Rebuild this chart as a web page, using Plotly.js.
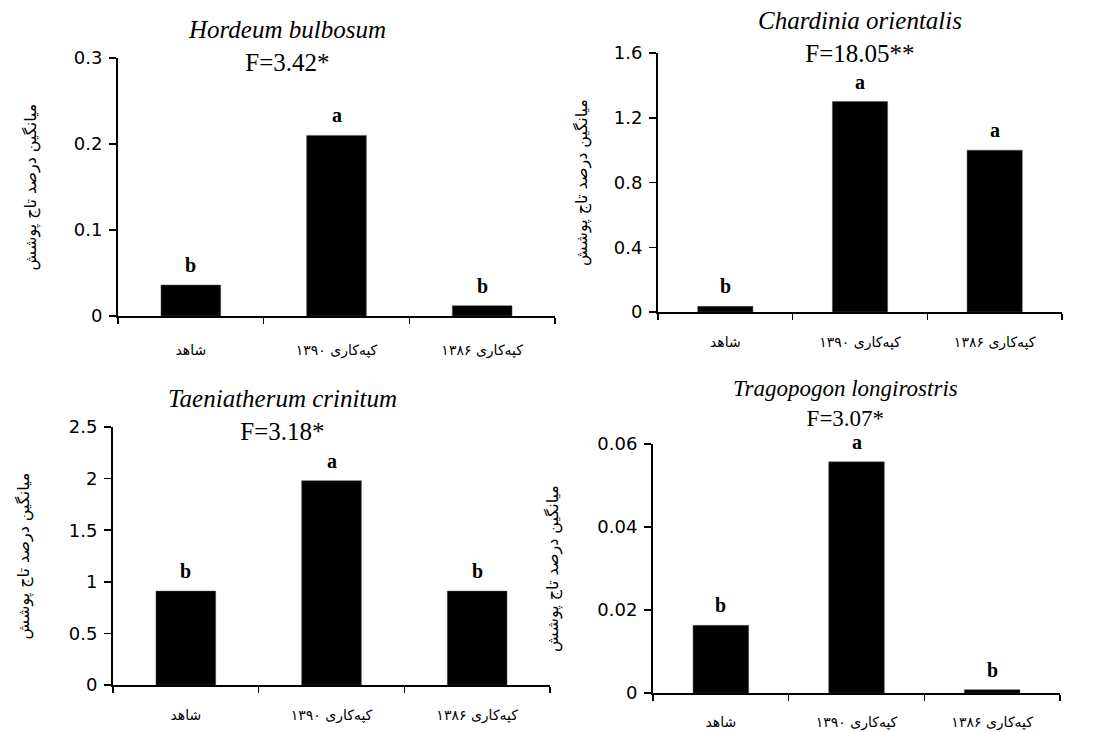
<!DOCTYPE html>
<html>
<head>
<meta charset="utf-8">
<script src="https://cdn.plot.ly/plotly-3.0.1.min.js"></script>
<style>html,body{margin:0;padding:0;background:#fff;}#chart{width:1097px;height:732px;}</style>
</head>
<body>
<div id="chart"></div>
<script>
// ---- data ----
const categories = ["شاهد", "کپه‌کاری ۱۳۹۰", "کپه‌کاری ۱۳۸۶"];
const species = ["Hordeum bulbosum", "Chardinia orientalis", "Taeniatherum crinitum", "Tragopogon longirostris"];
const fValues = ["F=3.42*", "F=18.05**", "F=3.18*", "F=3.07*"];
const hordeumValues = [0.036, 0.21, 0.012];
const chardiniaValues = [0.035, 1.3, 1.0];
const taeniatherumValues = [0.91, 1.98, 0.91];
const tragopogonValues = [0.0163, 0.0557, 0.0008];
const hordeumLetters = ["b", "a", "b"];
const chardiniaLetters = ["b", "a", "a"];
const taeniatherumLetters = ["b", "a", "b"];
const tragopogonLetters = ["b", "a", "b"];
const yMax = [0.3, 1.6, 2.5, 0.06];
const yStep = [0.1, 0.4, 0.5, 0.02];
const yTitle = "میانگین درصد تاج پوشش";

// ---- layout helpers ----
const W = 1097, H = 732;
const seriesValues = [hordeumValues, chardiniaValues, taeniatherumValues, tragopogonValues];
const seriesLetters = [hordeumLetters, chardiniaLetters, taeniatherumLetters, tragopogonLetters];
// pixel boxes: [left, right, top, bottom]
const boxes = [[118, 555, 58, 316], [658, 1062, 53, 312], [113, 550, 427, 685], [653, 1060, 444, 693]];
const titlePos = [[287, 46, 25], [860, 37, 25], [282, 415, 25], [845, 404, 23]];
const titleStandoff = [33, 22, 35, 35];
const xLabelStandoff = [20, 16, 16, 15];

const data = [];
const layout = {
  width: W, height: H,
  margin: {l: 0, r: 0, t: 0, b: 0},
  paper_bgcolor: "#fff", plot_bgcolor: "#fff",
  showlegend: false,
  annotations: []
};

for (let i = 0; i < 4; i++) {
  const n = i === 0 ? "" : String(i + 1);
  const b = boxes[i];
  data.push({
    type: "bar",
    x: categories,
    y: seriesValues[i],
    xaxis: "x" + n, yaxis: "y" + n,
    width: 0.41,
    marker: {color: "#000", line: {color: "#555", width: 0.5}},
    hoverinfo: "x+y"
  });
  layout["xaxis" + n] = {
    domain: [b[0] / W, b[1] / W],
    anchor: "y" + n,
    type: "category",
    range: [-0.5, 2.5],
    showline: true, linecolor: "#000", linewidth: 2,
    ticks: "outside", tickson: "boundaries", ticklen: 6, tickwidth: 1.5, tickcolor: "#000",
    ticklabelstandoff: xLabelStandoff[i],
    tickfont: {family: "DejaVu Sans", size: 14, color: "#000"},
    showgrid: false, zeroline: false, fixedrange: true
  };
  layout["yaxis" + n] = {
    domain: [1 - b[3] / H, 1 - b[2] / H],
    anchor: "x" + n,
    range: [0, yMax[i]],
    dtick: yStep[i], tick0: 0,
    showline: true, linecolor: "#000", linewidth: 2,
    ticks: "outside", ticklen: 7, tickwidth: 1.5, tickcolor: "#000",
    ticklabelstandoff: 3,
    tickfont: {family: "DejaVu Sans", size: 18, color: "#000"},
    showgrid: false, zeroline: false, fixedrange: true,
    title: {text: yTitle, font: {family: "DejaVu Sans", size: 16, color: "#000"}, standoff: titleStandoff[i]}
  };
  const t = titlePos[i];
  layout.annotations.push({
    xref: "paper", yref: "paper",
    x: t[0] / W, y: 1 - t[1] / H,
    xanchor: "center", yanchor: "middle",
    text: "<i>" + species[i] + "</i><br>" + fValues[i],
    showarrow: false,
    font: {family: "Liberation Serif", size: t[2], color: "#000"}
  });
  for (let k = 0; k < categories.length; k++) {
    layout.annotations.push({
      xref: "x" + n, yref: "y" + n,
      x: categories[k], y: seriesValues[i][k],
      xanchor: "center", yanchor: "middle", yshift: 20,
      text: "<b>" + seriesLetters[i][k] + "</b>",
      showarrow: false,
      font: {family: "Liberation Serif", size: 20, color: "#000"}
    });
  }
}

Plotly.newPlot("chart", data, layout, {displayModeBar: false, staticPlot: true});
</script>
</body>
</html>
